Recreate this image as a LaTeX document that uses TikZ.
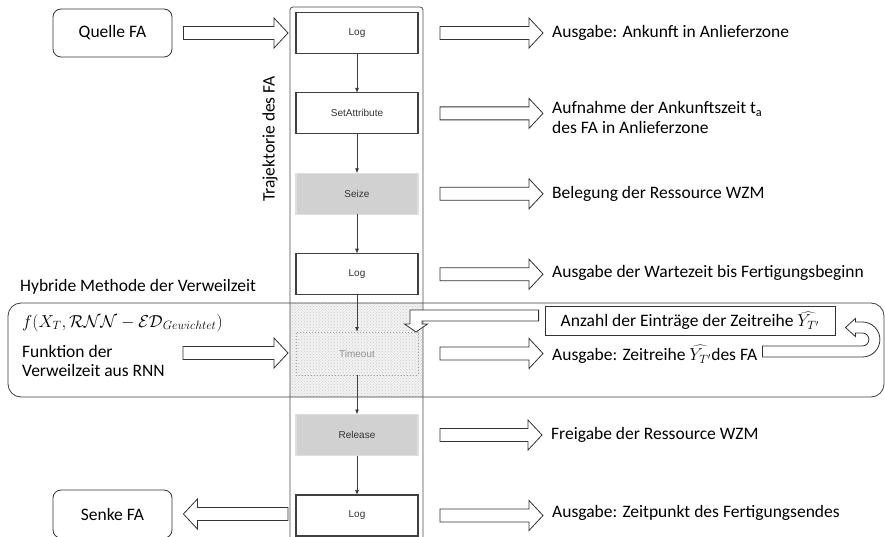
\documentclass[tikz,border=0pt]{standalone}
\usepackage{fontspec}
\setmainfont{Carlito}
\newfontfamily\boxfont{Liberation Sans}
\usepackage{tikz}
\usetikzlibrary{shapes,arrows,arrows.meta,calc,patterns}

\newcommand{\bigfont}{\fontsize{17.5}{19.5}\selectfont}
% hollow block arrow from #1 to #2 (horizontal)
\newcommand{\fatarrow}[2]{%
	\draw[fat_arrow] let \p1=(#1), \p2=(#2), \p3=($(#2)!14pt!(#1)$) in
	(\x1,{\y1+6.5pt}) -- (\x3,{\y1+6.5pt}) -- (\x3,{\y1+15pt}) -- (\x2,\y1)
	-- (\x3,{\y1-15pt}) -- (\x3,{\y1-6.5pt}) -- (\x1,{\y1-6.5pt}) -- cycle;}

\begin{document}
\begin{tikzpicture}[x=1pt,y=1pt,
	traj_node/.style={rectangle,draw=black!75,line width=1.2pt,fill=white,minimum width=122pt,minimum height=41pt,inner sep=0pt,outer sep=0pt,font=\boxfont\fontsize{10}{12}\selectfont,text=black!80},
	res_node/.style={traj_node,draw=gray!25,fill=gray!36},
	wait_node/.style={traj_node,draw=gray!75,line width=1pt,dotted,fill=none,text=gray!85,minimum height=43pt},
	io_node/.style={rectangle,rounded corners=8pt,draw=black!80,line width=0.8pt,minimum width=119pt,minimum height=48pt,font=\bigfont},
	info_node/.style={anchor=west,inner sep=0pt,font=\bigfont},
	step_edge/.style={draw=black!75,line width=0.8pt,-{Latex[length=5pt,width=4pt]}},
	fat_arrow/.style={draw=black!80,line width=0.8pt,fill=white,line join=miter}]
			
			\useasboundingbox (0,0) rectangle (885,536);
			\clip (0,0) rectangle (885,536);
			
			% hybrid zone texture
			\fill[gray!10] (290,139) rectangle (423,233);
			\fill[pattern=crosshatch dots,pattern color=gray!40] (290,139) rectangle (423,233);
			\node[rectangle,rounded corners=13pt,draw=black!75,line width=0.8pt,minimum width=876pt,minimum height=94pt,anchor=south west,outer sep=0pt] (hybrid) at (8,139) {};
			
			% trajectory
			\node[rectangle,rounded corners=3pt,draw=black!70,line width=0.8pt,minimum width=133pt,minimum height=560pt,anchor=north west,outer sep=0pt] (traj) at (290,529) {};
			\node[rotate=90,font=\bigfont] (traj_label) at (270,397) {Trajektorie des FA};
			
			\node[traj_node] (log1) at (357,503) {Log};
			\node[traj_node] (setattr) at (357,422.6) {SetAttribute};
			\node[res_node] (seize) at (357,342.2) {Seize};
			\node[traj_node] (log2) at (357,261.8) {Log};
			\node[wait_node] (timeout) at (357,182.5) {Timeout};
			\node[res_node] (release) at (357,101) {Release};
			\node[traj_node] (log3) at (357,20.5) {Log};
			
			\path[step_edge]
			(log1) edge (setattr)
			(setattr) edge (seize)
			(seize) edge (log2)
			(log2) edge (timeout)
			(timeout) edge (release)
			(release) edge (log3);
			
			% source and sink
			\node[io_node] (quelle) at (112.5,503) {Quelle FA};
			\node[io_node] (senke) at (112.5,22) {Senke FA};
			\fatarrow{[xshift=11pt]quelle.east}{[xshift=-2pt]traj.west |- quelle}
			\fatarrow{[xshift=-2pt]traj.west |- senke}{[xshift=11pt]senke.east}
			
			% left side, hybrid method
			\node[info_node] (hybrid_title) at (20,249) {Hybride Methode der Verweilzeit};
			\node[info_node] (rnn_func) at (22,213) {$f(X_T, \mathcal{RNN} - \mathcal{ED}_{Gewichtet})$};
			\node[info_node,align=left] (rnn_text) at (22,175) {Funktion der\\Verweilzeit aus RNN};
			\coordinate (rnn_out) at (183,183);
			\fatarrow{rnn_out}{[xshift=-2pt]traj.west |- timeout}
			
			% right side, outputs
			\node[info_node] (out1) at (552,503) {Ausgabe: Ankunft in Anlieferzone};
			\node[info_node,align=left] (out2) at (552,418.5) {Aufnahme der Ankunftszeit t\textsubscript{a}\\des FA in Anlieferzone};
			\node[info_node] (out3) at (552,342.2) {Belegung der Ressource WZM};
			\node[info_node] (out4) at (552,263) {Ausgabe der Wartezeit bis Fertigungsbeginn};
			\node[info_node] (out5) at (552,181.5) {Ausgabe: Zeitreihe $\widehat{Y_{T'}}$des FA};
			\node[info_node] (out6) at (551,101) {Freigabe der Ressource WZM};
			\node[info_node] (out7) at (552,23) {Ausgabe: Zeitpunkt des Fertigungsendes};
			
			\foreach \src/\dst in {log1/out1,setattr/out2,seize/out3,log2/out4,timeout/out5,release/out6,log3/out7}
			\fatarrow{[xshift=17pt]traj.east |- \src}{[xshift=-9pt]\dst.west |- \src};
			
			\node[draw=black!80,line width=0.8pt,font=\bigfont,minimum width=290pt,minimum height=29pt,inner sep=0pt] (anzahl) at (690,215) {Anzahl der Einträge der Zeitreihe $\widehat{Y_{T'}}$};
			
			% feedback: output back to the count of entries
			\draw[fat_arrow] let \p1=([xshift=5pt,yshift=3pt]out5.east), \p2=([xshift=10pt,yshift=-6.5pt]anzahl.east) in
			(\x1,{\y1+5.5pt}) -- ({\x2+17pt},{\y1+5.5pt}) arc[start angle=-90,end angle=90,radius=6.5pt]
			-- ({\x2+10pt},{\y2-5.5pt}) -- ({\x2+10pt},{\y2-9pt}) -- (\x2,\y2) -- ({\x2+10pt},{\y2+9pt})
			-- ({\x2+10pt},{\y2+5.5pt}) -- ({\x2+17pt},{\y2+5.5pt}) arc[start angle=90,end angle=-90,radius=17.5pt]
			-- (\x1,{\y1-5.5pt}) -- cycle;
			
			% count of entries into Timeout
			\draw[fat_arrow] let \p1=([xshift=-6pt,yshift=5.5pt]anzahl.west), \p2=([xshift=-2pt]timeout.north east) in
			(\x1,{\y1+5.5pt}) -- ({\x2-6pt},{\y1+5.5pt}) -- ({\x2-6pt},{\y2+8pt}) -- ({\x2-11.5pt},{\y2+8pt})
			-- (\x2,\y2) -- ({\x2+11.5pt},{\y2+8pt}) -- ({\x2+6pt},{\y2+8pt}) -- ({\x2+6pt},{\y1-5.5pt})
			-- (\x1,{\y1-5.5pt}) -- cycle;
		\end{tikzpicture}
\end{document}
